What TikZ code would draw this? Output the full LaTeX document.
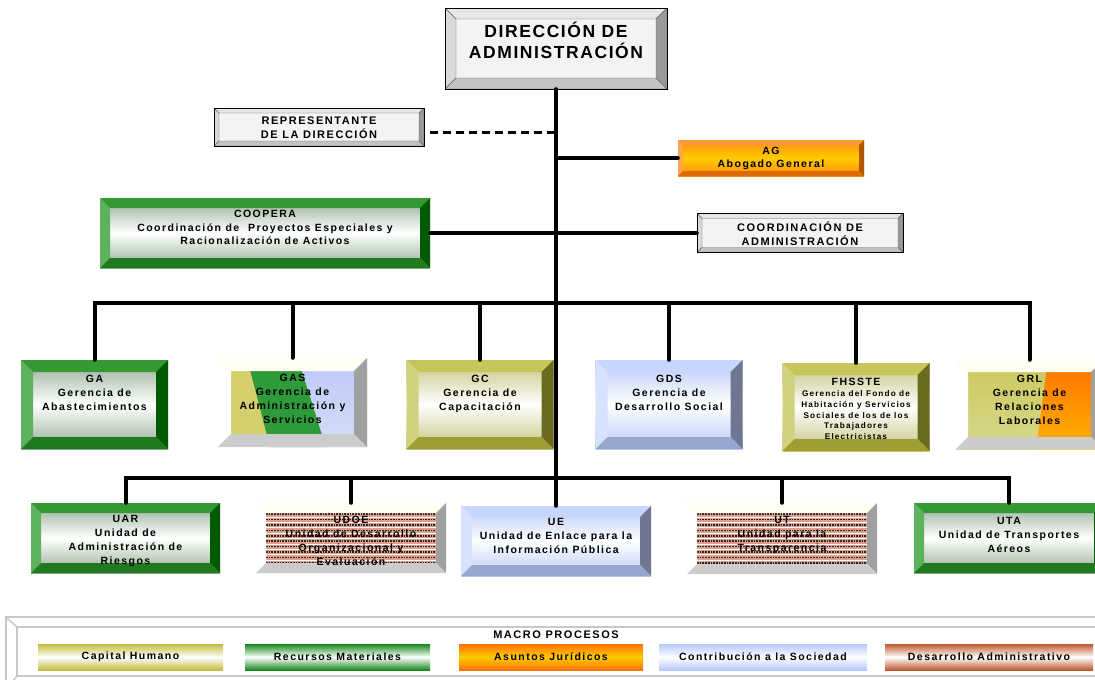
\documentclass[tikz,border=0pt]{standalone}
\usepackage{fontspec}
\newfontfamily\orgfont[LetterSpace=14]{Liberation Sans}
\newfontfamily\titlefont[LetterSpace=9]{Liberation Sans}

\definecolor{gFace}{HTML}{F3F3F3}
\definecolor{gT}{HTML}{E6E6E6}
\definecolor{gL}{HTML}{D9D9D9}
\definecolor{gR}{HTML}{999999}
\definecolor{gB}{HTML}{C2C2C2}
\definecolor{grT}{HTML}{339933}
\definecolor{grL}{HTML}{5DB35D}
\definecolor{grR}{HTML}{005A00}
\definecolor{grB}{HTML}{1F7A1F}
\definecolor{grF}{HTML}{93AC93}
\definecolor{olT}{HTML}{C6C65A}
\definecolor{olL}{HTML}{D2D27E}
\definecolor{olR}{HTML}{6B6B1F}
\definecolor{olB}{HTML}{9E9E32}
\definecolor{olF}{HTML}{C4C47E}
\definecolor{blT}{HTML}{C6D6FF}
\definecolor{blL}{HTML}{D6E2FF}
\definecolor{blR}{HTML}{6E7692}
\definecolor{blB}{HTML}{97A6CE}
\definecolor{blF}{HTML}{B8C9F5}
\definecolor{orT}{HTML}{FF9A3C}
\definecolor{orL}{HTML}{FFA552}
\definecolor{orR}{HTML}{B05500}
\definecolor{orB}{HTML}{DD6A00}
\definecolor{orF}{HTML}{FF8A10}
\definecolor{orM}{HTML}{FFCC00}
\definecolor{wT}{HTML}{FFFFF2}
\definecolor{wR}{HTML}{A0A0A0}
\definecolor{wB}{HTML}{CCCCCC}
\definecolor{gasY}{HTML}{D5CF6E}
\definecolor{gasG}{HTML}{2F9A3A}
\definecolor{gasB}{HTML}{B6CAF2}
\definecolor{grlY}{HTML}{C9C85C}
\definecolor{salmonband}{HTML}{DDA08A}
\definecolor{lgOlive}{HTML}{C3BB3E}
\definecolor{lgGreen}{HTML}{15871C}
\definecolor{lgOrange}{HTML}{FF7200}
\definecolor{lgBlue}{HTML}{B6C8FF}
\definecolor{lgBrown}{HTML}{C0592E}
\definecolor{frameGrey}{HTML}{C8C8C8}

\newcommand{\orgtext}[1]{\begin{tabular}[t]{@{}c@{}}#1\end{tabular}}
\def\facecode{}

\tikzset{
  face code/.code={\def\facecode{#1}},
  bevel/.style n args={5}{path picture={
      \coordinate (bNW) at (path picture bounding box.north west);
      \coordinate (bNE) at (path picture bounding box.north east);
      \coordinate (bSW) at (path picture bounding box.south west);
      \coordinate (bSE) at (path picture bounding box.south east);
      \coordinate (iNW) at ([shift={(#1,-#1)}]bNW);
      \coordinate (iNE) at ([shift={(-#1,-#1)}]bNE);
      \coordinate (iSW) at ([shift={(#1,#1)}]bSW);
      \coordinate (iSE) at ([shift={(-#1,#1)}]bSE);
      \facecode
      \path[#2] (bNW) -- (bNE) -- (iNE) -- (iNW) -- cycle;
      \path[#3] (bNW) -- (iNW) -- (iSW) -- (bSW) -- cycle;
      \path[#4] (bNE) -- (bSE) -- (iSE) -- (iNE) -- cycle;
      \path[#5] (bSW) -- (iSW) -- (iSE) -- (bSE) -- cycle;
  }},
  box/.style={inner sep=0pt, text height=0pt,
    font=\orgfont\bfseries\fontsize{10.5}{14}\selectfont},
  capsfont/.style={font=\orgfont\bfseries\fontsize{11}{13.5}\selectfont},
  greybox/.style={box, draw=black, fill=gFace,
    bevel={#1}{fill=gT,draw=black!60}{fill=gL,draw=black!60}{fill=gR,draw=black!60}{fill=gB,draw=black!60}},
  greenbox/.style={box, top color=grF, bottom color=grF, middle color=white,
    bevel={#1}{fill=grT}{fill=grL}{fill=grR}{fill=grB}},
  olivebox/.style={box, top color=olF, bottom color=olF, middle color=white,
    bevel={#1}{fill=olT}{fill=olL}{fill=olR}{fill=olB}},
  bluebox/.style={box, top color=blF, bottom color=blF, middle color=white,
    bevel={#1}{fill=blT}{fill=blL}{fill=blR}{fill=blB}},
  orangebox/.style={box, top color=orF, bottom color=orF, middle color=orM,
    bevel={#1}{fill=orT}{fill=orL}{fill=orR}{fill=orB}},
  whitebox/.style={box,
    bevel={#1}{fill=wT}{fill=white}{fill=wR}{fill=wB}},
  stripes/.style={face code={
    \fill[salmonband] (iNW) rectangle (iSE);
    \foreach \k in {0,...,9} {
      \draw[white, line width=1pt] ([yshift=-4pt-5.4pt*\k]iNW) -- ([yshift=-4pt-5.4pt*\k]iNE);
      \draw[black!85, densely dotted, line width=1.7pt] ([yshift=-1.2pt-5.4pt*\k]iNW) -- ([yshift=-1.2pt-5.4pt*\k]iNE);
    }
    \draw[#1, dotted, line width=0.8pt] (bNW) -- (bNE);
  }},
  row1/.style={minimum width=147pt, minimum height=89pt},
  row2/.style={minimum width=190pt, minimum height=70pt},
  conn/.style={line width=4pt, line cap=round},
  dashline/.style={line width=3pt, dash pattern=on 8pt off 5pt},
  legendbox/.style={minimum height=26pt, inner sep=0pt,
    font=\orgfont\bfseries\fontsize{10.5}{12}\selectfont},
  frameline/.style={frameGrey, line width=1.5pt},
}

\begin{document}
\begin{tikzpicture}[x=1pt,y=-1pt]
\useasboundingbox (0,0) rectangle (1095,680);

% cabeza
\node[greybox=11pt, minimum width=222pt, minimum height=81pt, text depth=23pt,
  font=\titlefont\bfseries\fontsize{17.5}{21}\selectfont] (dir) at (556,48.5)
  {\orgtext{DIRECCIÓN DE\\ADMINISTRACIÓN}};
\node[greybox=5pt, capsfont, minimum width=210pt, minimum height=38pt, text depth=5.4pt]
  (rep) at (319,127) {\orgtext{REPRESENTANTE\\DE LA DIRECCIÓN}};
\node[orangebox=5pt, minimum width=186pt, minimum height=36pt, text depth=7.4pt,
  font=\orgfont\bfseries\fontsize{10.5}{13.4}\selectfont]
  (ag) at (771,158) {\orgtext{AG\\Abogado General}};
\node[greenbox=10pt, minimum width=330pt, minimum height=70pt, text depth=30.6pt,
  font=\orgfont\bfseries\fontsize{10.5}{13.3}\selectfont]
  (coopera) at (265,233)
  {\orgtext{COOPERA\\Coordinación de \ Proyectos Especiales y\\Racionalización de Activos}};
\node[greybox=5pt, capsfont, minimum width=206pt, minimum height=39pt, text depth=2.6pt]
  (coord) at (800,233) {\orgtext{COORDINACIÓN DE\\ADMINISTRACIÓN}};

% gerencias
\node[greenbox=12pt, row1, text depth=43.6pt] (ga) at (94.5,404.5)
  {\orgtext{GA\\Gerencia de\\Abastecimientos}};
\node[whitebox=13pt, row1, minimum width=149pt, text depth=41.6pt,
  face code={
    \fill[gasY] (bNW) rectangle (bSE);
    \fill[gasG] ([xshift=29pt]bNW) -- ([xshift=80pt]bNW) -- ([xshift=108pt]bSW) -- ([xshift=52pt]bSW) -- cycle;
    \shade[top color=gasB!80!blue!60!white, bottom color=gasB!60!white] ([xshift=80pt]bNW) -- (bNE) -- (bSE) -- ([xshift=108pt]bSW) -- cycle;
  }] (gas) at (292.5,402.5)
  {\orgtext{GAS\\Gerencia de\\Administración y\\Servicios}};
\node[olivebox=12pt, row1, text depth=43.6pt] (gc) at (480,404.5)
  {\orgtext{GC\\Gerencia de\\Capacitación}};
\node[bluebox=12pt, row1, text depth=43.6pt] (gds) at (669,404.5)
  {\orgtext{GDS\\Gerencia de\\Desarrollo Social}};
\node[olivebox=12pt, row1, minimum height=88pt, text depth=42.6pt,
  font=\orgfont\bfseries\fontsize{8.2}{10.8}\selectfont] (fhsste) at (856,407)
  {\orgtext{{\fontsize{10.5}{12}\selectfont FHSSTE}\\Gerencia del Fondo de\\Habitación y Servicios\\Sociales de los de los\\Trabajadores\\Electricistas}};
\node[whitebox=12pt, row1, text depth=44.4pt,
  face code={
    \shade[top color=grlY, bottom color=grlY!70!white] (bNW) rectangle (bSE);
    \shade[top color=lgOrange, middle color=orM, bottom color=orM!70!lgOrange] ([xshift=92pt]bNW) -- (bNE) -- (bSE) -- ([xshift=80pt]bSW) -- cycle;
  }] (grl) at (1029.5,404.5)
  {\orgtext{GRL\\Gerencia de\\Relaciones\\Laborales}};

% unidades
\node[greenbox=10pt, row2, minimum width=189pt, text depth=31.4pt] (uar) at (125.5,538)
  {\orgtext{UAR\\Unidad de\\Administración de\\Riesgos}};
\node[whitebox=10pt, row2, text depth=29.4pt, stripes=black!50] (udoe) at (351,538)
  {\orgtext{UDOE\\Unidad de Desarrollo\\Organizacional y\\Evaluación}};
\node[bluebox=11pt, row2, text depth=30.6pt] (ue) at (556,541)
  {\orgtext{UE\\Unidad de Enlace para la\\Información Pública}};
\node[whitebox=10pt, row2, minimum height=71pt, text depth=30.4pt, stripes=lgBrown]
  (ut) at (782,538.5) {\orgtext{UT\\Unidad para la\\Transparencia}};
\node[greenbox=10pt, row2, text depth=28pt] (uta) at (1009,538)
  {\orgtext{UTA\\Unidad de Transportes\\Aéreos}};

% lineas
\coordinate (bus1) at (556,303);
\coordinate (bus2) at (556,478);
\coordinate (repR) at ([shift={(6pt,-5pt)}]rep.east);
\draw[conn] (dir.south) -- (dir.south |- ue.north);
\draw[dashline] (repR) -- (repR -| dir.south);
\draw[conn] (ag.west) -- (ag.west -| dir.south);
\draw[conn] (coopera.east) -- (coord.west);
\draw[conn] (ga.north) |- (bus1) -| (grl.north);
\foreach \n in {gas,gc,gds,fhsste}
  \draw[conn] (\n.north) -- (\n.north |- bus1);
\draw[conn] (uar.north) |- (bus2) -| (uta.north);
\foreach \n in {udoe,ut}
  \draw[conn] (\n.north) -- (\n.north |- bus2);

% macro procesos
\draw[frameline] (6,617) rectangle (1106,689);
\draw[frameline] (17,627) rectangle (1100,676);
\draw[frameline] (6,617) -- (17,627) (6,689) -- (17,676);
\node[font=\orgfont\bfseries\fontsize{11}{12}\selectfont, inner sep=0pt] (macro) at (556,635) {MACRO PROCESOS};
\node[legendbox, minimum width=185pt, top color=lgOlive, bottom color=lgOlive, middle color=white]
  (capital) at (130.5,657) {Capital Humano};
\node[legendbox, minimum width=185pt, top color=lgGreen, bottom color=lgGreen, middle color=white]
  (recursos) at (337.5,657) {Recursos Materiales};
\node[legendbox, minimum width=184pt, top color=lgOrange, bottom color=lgOrange, middle color=orM]
  (asuntos) at (551,657) {Asuntos Jurídicos};
\node[legendbox, minimum width=208pt, top color=lgBlue, bottom color=lgBlue, middle color=white]
  (contrib) at (763,657) {Contribución a la Sociedad};
\node[legendbox, minimum width=208pt, top color=lgBrown, bottom color=lgBrown, middle color=white]
  (desarrollo) at (989,657) {Desarrollo Administrativo};
\end{tikzpicture}
\end{document}
